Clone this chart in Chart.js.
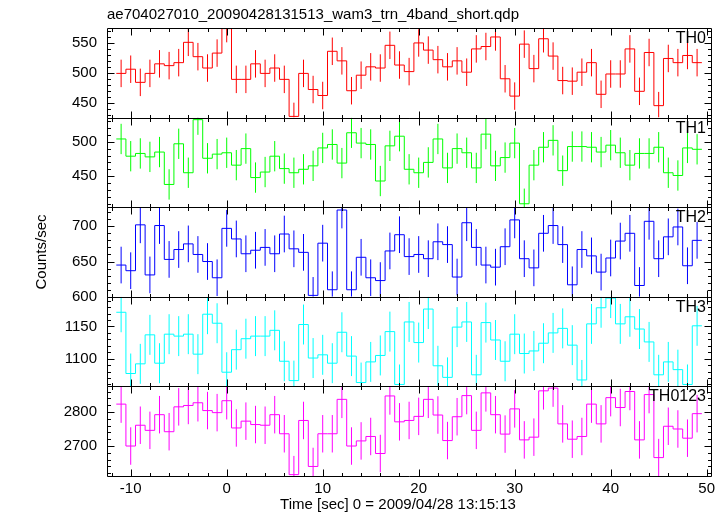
<!DOCTYPE html>
<html>
<head>
<meta charset="utf-8">
<script src="https://cdn.jsdelivr.net/npm/chart.js@4/dist/chart.umd.min.js"></script>
<style>
  html, body { margin: 0; padding: 0; background: #fff; }
  #wrap { width: 728px; height: 516px; }
</style>
</head>
<body>
<div id="wrap"><canvas id="lc" width="728" height="516"></canvas></div>
<script>
const plotTitle = 'ae704027010_20090428131513_wam3_trn_4band_short.qdp';
const xTitle = 'Time [sec] 0 = 2009/04/28 13:15:13';
const yTitle = 'Counts/sec';

// bin centres (sec), 1 s bins
const binTimes = [
  -11, -10, -9, -8, -7, -6, -5, -4, -3, -2, -1, 0,
  1, 2, 3, 4, 5, 6, 7, 8, 9, 10, 11, 12, 13, 14, 15, 16, 17, 18, 19, 20,
  21, 22, 23, 24, 25, 26, 27, 28, 29, 30, 31, 32, 33, 34, 35, 36, 37, 38, 39, 40,
  41, 42, 43, 44, 45, 46, 47, 48, 49
];
const binWidth = 1;

const panelNames = ['TH0', 'TH1', 'TH2', 'TH3', 'TH0123'];

const th0Rate = [
  499, 506, 484, 499, 515, 512, 517, 551, 527, 508, 533, 574,
  489, 489, 515, 499, 508, 489, 427, 499, 472, 462,
  536, 520, 470, 496, 510, 508, 546, 513, 502, 550,
  538, 522, 510, 520, 501, 540, 544, 560, 490, 461,
  548, 507, 557, 528, 487, 486, 501, 517, 464, 498,
  498, 540, 469, 534, 445, 524, 517, 529, 517
];
const th1Rate = [
  504, 479, 483, 478, 485, 438, 497, 455, 532, 476, 482, 484,
  466, 490, 448, 456, 479, 461, 455, 460, 465, 491,
  496, 469, 513, 498, 496, 443, 494, 508, 460, 455,
  470, 504, 462, 490, 484, 462, 511, 465, 477, 498,
  410, 466, 492, 502, 458, 493, 493, 492, 485, 495,
  484, 466, 483, 483, 492, 455, 451, 491, 489
];
const th2Rate = [
  645, 637, 702, 631, 701, 653, 667, 675, 660, 650, 627, 697,
  682, 661, 666, 670, 661, 689, 668, 663, 602, 676,
  610, 723, 610, 656, 627, 623, 665, 688, 657, 660,
  654, 678, 674, 628, 705, 670, 645, 642, 671, 709,
  654, 641, 690, 701, 674, 617, 667, 658, 635, 655,
  679, 690, 616, 707, 654, 685, 699, 644, 680
];
const th3Rate = [
  1172, 1077, 1092, 1137, 1093, 1138, 1135, 1138, 1107, 1169, 1155, 1079,
  1114, 1131, 1135, 1135, 1144, 1096, 1066, 1153, 1101, 1106,
  1093, 1141, 1104, 1063, 1095, 1105, 1142, 1060, 1157, 1125,
  1177, 1089, 1071, 1149, 1157, 1075, 1156, 1129, 1096, 1138,
  1108, 1112, 1124, 1140, 1147, 1121, 1067, 1154, 1179, 1194,
  1154, 1165, 1146, 1126, 1075, 1095, 1083, 1060, 1151
];
const th0123Rate = [
  2823, 2700, 2761, 2746, 2792, 2742, 2815, 2819, 2827, 2804, 2798, 2833,
  2753, 2773, 2763, 2761, 2792, 2736, 2616, 2775, 2640, 2736,
  2736, 2837, 2700, 2715, 2728, 2678, 2847, 2771, 2775, 2787,
  2837, 2791, 2716, 2786, 2848, 2746, 2856, 2792, 2735, 2809,
  2718, 2726, 2862, 2870, 2765, 2720, 2728, 2823, 2765, 2842,
  2813, 2860, 2718, 2851, 2666, 2758, 2750, 2723, 2795
];
// typical 1-sigma error per panel (counts/sec)
const rateErrors = [23, 22, 26, 31, 55];

// labelled tick values
const xTickValues = [-10, 0, 10, 20, 30, 40, 50];
const th0Ticks = [450, 500, 550];
const th1Ticks = [450, 500];
const th2Ticks = [600, 650, 700];
const th3Ticks = [1100, 1150];
const th0123Ticks = [2700, 2800];

const panelRates = [th0Rate, th1Rate, th2Rate, th3Rate, th0123Rate];
const panelTicks = [th0Ticks, th1Ticks, th2Ticks, th3Ticks, th0123Ticks];
const panelColors = ['#ff0000', '#00ff00', '#0000ff', '#00ffff', '#ff00ff'];
const panelRanges = [[425, 575], [405, 535], [600, 727], [1057, 1196], [2612, 2875]];
const panelSteps = [50, 50, 50, 50, 100];

const FONT = '"Liberation Sans", Arial, Helvetica, sans-serif';
Chart.defaults.font.family = FONT;
Chart.defaults.font.size = 15;
Chart.defaults.color = '#000';

function histPoints(vals) {
  const pts = vals.map((v, i) => ({ x: binTimes[i] - binWidth / 2, y: v }));
  const last = binTimes.length - 1;
  pts.push({ x: binTimes[last] + binWidth / 2, y: vals[last] });
  return pts;
}

function errPoints(vals, err) {
  const pts = [];
  vals.forEach((v, i) => {
    pts.push({ x: binTimes[i], y: v - err });
    pts.push({ x: binTimes[i], y: v + err });
    pts.push({ x: binTimes[i], y: null });
  });
  return pts;
}

function fixedTicks(values) {
  return (scale) => {
    scale.ticks = values.map(v => ({ value: v }));
  };
}

const datasets = [];
panelNames.forEach((name, p) => {
  const yId = 'y' + p;
  datasets.push({
    label: name,
    data: histPoints(panelRates[p]),
    yAxisID: yId,
    borderColor: panelColors[p],
    borderWidth: 1,
    pointRadius: 0,
    stepped: true,
    fill: false
  });
  datasets.push({
    label: name + ' err',
    data: errPoints(panelRates[p], rateErrors[p]),
    yAxisID: yId,
    borderColor: panelColors[p],
    borderWidth: 1,
    pointRadius: 0,
    spanGaps: false,
    fill: false
  });
});

const scales = {
  x: {
    type: 'linear',
    min: -12.47,
    max: 50.45,
    ticks: {
      padding: 4, maxRotation: 0, autoSkip: false, font: { size: 15 },
      callback: v => String(v)
    },
    afterBuildTicks: fixedTicks(xTickValues),
    afterFit(scale) { scale.height = 40; },
    grid: { display: false, drawTicks: false },
    border: { display: false }
  }
};
// last defined stacked axis ends up on top, so add from the bottom panel up
for (let p = panelNames.length - 1; p >= 0; p--) {
  scales['y' + p] = {
    type: 'linear',
    position: 'left',
    stack: 'panels',
    stackWeight: 1,
    min: panelRanges[p][0],
    max: panelRanges[p][1],
    ticks: {
      padding: 10, autoSkip: false, font: { size: 15 },
      callback: v => String(v)
    },
    afterBuildTicks: fixedTicks(panelTicks[p]),
    afterFit(scale) { scale.width = 107; },
    grid: { display: false, drawTicks: false },
    border: { display: false }
  };
}

const qdpFrame = {
  id: 'qdpFrame',
  beforeDatasetDraw(chart, args) {
    const ys = chart.scales[args.meta.yAxisID];
    const a = chart.chartArea;
    const ctx = chart.ctx;
    ctx.save();
    ctx.beginPath();
    ctx.rect(a.left, ys.top, a.right - a.left, ys.bottom - ys.top);
    ctx.clip();
  },
  afterDatasetDraw(chart) {
    chart.ctx.restore();
  },
  afterDraw(chart) {
    const ctx = chart.ctx;
    const a = chart.chartArea;
    const xs = chart.scales.x;
    ctx.save();
    ctx.strokeStyle = '#000';
    ctx.lineWidth = 1;
    ctx.fillStyle = '#000';

    panelNames.forEach((name, p) => {
      const ys = chart.scales['y' + p];
      const top = Math.round(ys.top) + 0.5;
      const bot = Math.round(ys.bottom) + 0.5;
      const left = Math.round(a.left) + 0.5;
      const right = Math.round(a.right) + 0.5;
      ctx.beginPath();
      ctx.rect(left, top, right - left, bot - top);

      // x ticks, major every 10, minor every 2
      for (let v = Math.ceil(xs.min / 2) * 2; v <= xs.max; v += 2) {
        const px = Math.round(xs.getPixelForValue(v)) + 0.5;
        const len = v % 10 === 0 ? 7 : 3.5;
        ctx.moveTo(px, top); ctx.lineTo(px, top + len);
        ctx.moveTo(px, bot); ctx.lineTo(px, bot - len);
      }
      // y ticks, 5 minor per major
      const major = panelSteps[p];
      const minor = major / 5;
      for (let v = Math.ceil(ys.min / minor) * minor; v <= ys.max; v += minor) {
        const py = Math.round(ys.getPixelForValue(v)) + 0.5;
        const len = Math.abs(v % major) < 1e-6 ? 7 : 3.5;
        ctx.moveTo(left, py); ctx.lineTo(left + len, py);
        ctx.moveTo(right, py); ctx.lineTo(right - len, py);
      }
      ctx.stroke();

      ctx.font = '16px ' + FONT;
      ctx.textAlign = 'right';
      ctx.textBaseline = 'alphabetic';
      ctx.fillText(name, a.right - 5, ys.top + 15);
    });

    ctx.font = '15px ' + FONT;
    ctx.textAlign = 'left';
    ctx.textBaseline = 'alphabetic';
    ctx.fillText(plotTitle, a.left, 19);

    ctx.textAlign = 'center';
    ctx.fillText(xTitle, 398, 509);

    ctx.translate(42, (a.top + a.bottom) / 2);
    ctx.rotate(-Math.PI / 2);
    ctx.textBaseline = 'middle';
    ctx.fillText(yTitle, 0, 0);
    ctx.restore();
  }
};

new Chart(document.getElementById('lc'), {
  type: 'line',
  data: { datasets },
  options: {
    responsive: false,
    maintainAspectRatio: false,
    devicePixelRatio: 1,
    animation: false,
    layout: { padding: { left: 0, top: 28, right: 17, bottom: 0 } },
    plugins: {
      legend: { display: false },
      tooltip: { enabled: false },
      title: { display: false }
    },
    scales
  },
  plugins: [qdpFrame]
});
</script>
</body>
</html>
